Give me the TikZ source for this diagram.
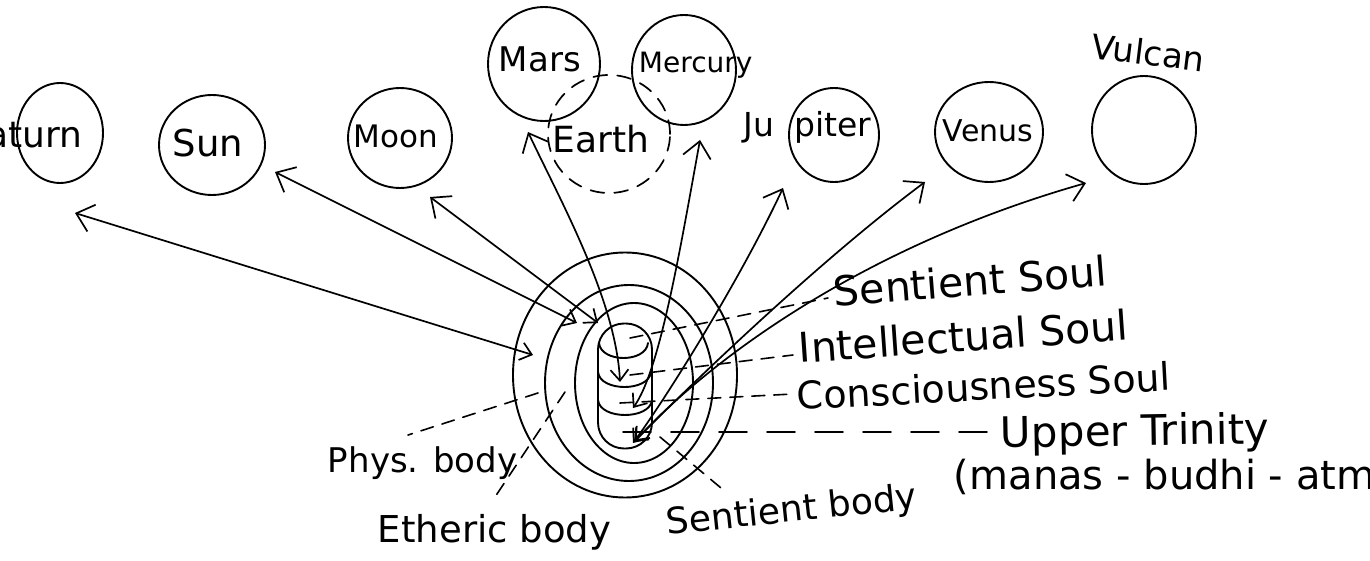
\documentclass[tikz,border=0pt]{standalone}
\usepackage{fontspec}
\setmainfont{DejaVu Sans}
\usetikzlibrary{arrows.meta,shapes.geometric}
\begin{document}
\begin{tikzpicture}[x=1pt,y=-1pt, line width=1.9pt, line cap=round, line join=round,
  planet/.style={draw, ellipse, inner sep=0pt},
  layer/.style={draw, ellipse, inner sep=0pt},
  lbl/.style={inner sep=0pt, anchor=base west},
  fs/.style={font=\fontsize{#1}{#1}\selectfont},
  dsh/.style={dash pattern=on 13pt off 9pt, line width=1.6pt},
  longdsh/.style={dash pattern=on 28pt off 20pt, line width=1.6pt},
  link/.style={line width=1.7pt, {Straight Barb[length=11pt,width=18pt]}-{Straight Barb[length=16pt,width=28pt]}}
]
\useasboundingbox (0,0) rectangle (1370,561);
\clip (0,0) rectangle (1370,561);

% planets
\node[planet, minimum width=86, minimum height=100] (saturn) at (60,133) {};
\node[planet, minimum width=106, minimum height=100] (sun) at (212,145) {};
\node[planet, minimum width=104, minimum height=100] (moon) at (400,138) {};
\node[planet, minimum width=112, minimum height=114] (mars) at (544,64) {};
\node[planet, minimum width=104, minimum height=110] (mercury) at (684,70) {};
\node[planet, dashed, dash pattern=on 14pt off 10pt, line width=1.7pt, minimum width=122, minimum height=118] (earth) at (609,134) {};
\node[planet, minimum width=90, minimum height=94] (jupiter) at (834,135) {};
\node[planet, minimum width=108, minimum height=100] (venus) at (989,132) {};
\node[planet, minimum width=104, minimum height=108] (vulcan) at (1144,130) {};

% planet names
\node[lbl, anchor=base east, fs=36] (tsaturn) at (83,148) {Saturn};
\node[lbl, fs=37] (tsun) at (172,157) {Sun};
\node[lbl, fs=31] (tmoon) at (353,148) {Moon};
\node[lbl, fs=34] (tmars) at (498,72) {Mars};
\node[lbl, fs=28] (tmercury) at (638,73) {Mercury};
\node[lbl, fs=36] (tearth) at (552,153) {Earth};
\node[lbl, fs=33] (tjupiter) at (743,137) {Ju\hspace{20pt}piter};
\node[lbl, fs=30] (tvenus) at (942,142) {Venus};
\node[lbl, fs=34, rotate=-7] (tvulcan) at (1090,58) {Vulcan};

% concentric members
\node[layer, minimum width=224, minimum height=245] (phys) at (625,375) {};
\node[layer, minimum width=168, minimum height=196] (ether) at (629,383) {};
\node[layer, minimum width=118, minimum height=160] (astral) at (634,383) {};
\node[draw, rounded corners=26pt, minimum width=54, minimum height=125, inner sep=0pt] (core) at (625,386) {};
\draw (599,343) .. controls (601,363) and (646,363) .. (648,343);
\draw (598,372) .. controls (600,392) and (649,392) .. (651,372);
\draw (598,400) .. controls (600,420) and (650,420) .. (652,400);

% labels right
\node[lbl, fs=41, rotate=4.5] (tss) at (834,307) {Sentient Soul};
\node[lbl, fs=41, rotate=4] (tis) at (799,363) {Intellectual Soul};
\node[lbl, fs=38, rotate=3] (tcs) at (797,410) {Consciousness Soul};
\node[lbl, fs=42, rotate=1] (tut) at (1000,448) {Upper Trinity};
\node[lbl, fs=40] (tmba) at (953,489) {(manas - budhi - atma)};

% labels left / bottom
\node[lbl, fs=34] (tphys) at (327,472) {Phys. body};
\node[lbl, fs=37] (teth) at (377,542) {Etheric body};
\node[lbl, fs=36, rotate=6] (tsb) at (667,535) {Sentient body};

% dashed leader lines
\coordinate (lssA) at (630,338); \coordinate (lssB) at (828,298);
\coordinate (lisA) at (630,375); \coordinate (lisB) at (793,355);
\coordinate (lcsA) at (620,403); \coordinate (lcsB) at (793,394);
\coordinate (lutA) at (623,432); \coordinate (lutB) at (990,432);
\coordinate (lphA) at (538,393); \coordinate (lphB) at (408,435);
\coordinate (letA) at (565,392); \coordinate (letB) at (493,500);
\coordinate (lsbA) at (660,437); \coordinate (lsbB) at (727,493);
\draw[dsh] (lssA) -- (lssB);
\draw[dsh] (lisA) -- (lisB);
\draw[dsh] (lcsA) -- (lcsB);
\draw[longdsh] (lutA) -- (lutB);
\draw[dsh] (lphA) -- (lphB);
\draw[dsh] (letA) -- (letB);
\draw[dsh] (lsbA) -- (lsbB);

% arrows
\coordinate (aSat) at (75,213);   \coordinate (iSat) at (533,355);
\coordinate (aSun) at (275,172);  \coordinate (iSun) at (577,323);
\coordinate (aMoon) at (430,197); \coordinate (iMoon) at (598,323);
\coordinate (aMars) at (528,132); \coordinate (iMars) at (620,382);
\coordinate (aMer) at (700,140);  \coordinate (iMer) at (633,408);
\coordinate (aJup) at (783,188);  \coordinate (iJup) at (633,443);
\coordinate (aVen) at (925,182);  \coordinate (iVen) at (634,442);
\coordinate (aVul) at (1086,183); \coordinate (iVul) at (635,441);
\draw[link] (iSat) -- (aSat);
\draw[link] (iSun) -- (aSun);
\draw[link] (iMoon) -- (aMoon);
\draw[link] (iMars) .. controls (616,300) and (560,200) .. (aMars);
\draw[link] (iMer) .. controls (660,370) and (680,250) .. (aMer);
\draw[link] (iJup) .. controls (665,400) and (740,280) .. (aJup);
\draw[link] (iVen) .. controls (690,385) and (820,260) .. (aVen);
\draw[link] (iVul) .. controls (700,370) and (850,250) .. (aVul);
\end{tikzpicture}
\end{document}
